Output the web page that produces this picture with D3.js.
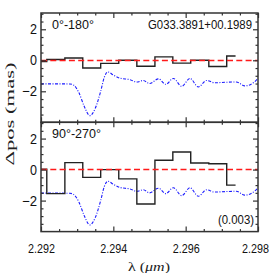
<!DOCTYPE html>
<html>
<head>
<meta charset="utf-8">
<script src="https://cdn.jsdelivr.net/npm/d3@7"></script>
<style>
  body { margin: 0; background: #fff; }
  svg { display: block; }
</style>
</head>
<body>
<script>
// binned centroid offsets (histogram style)
const stepLam = [2.29191, 2.29241, 2.29291, 2.29340, 2.29390, 2.29440,
                 2.29490, 2.29540, 2.29589, 2.29639, 2.29689, 2.29738];
const stepTop = [-0.08, 0.05, 0.15, -0.5, -0.2, 0.0, -0.38, 0.22, -0.18, 0.0, -0.4, 0.28];
const stepBot = [0.02, -1.55, 0.45, -0.5, 0.0, -0.6, -2.22, 0.6, 1.13, 0.42, 0.38, -1.0];

// line profile (blue dash-dot)
const profLam = [2.2920, 2.2925, 2.2928, 2.2929, 2.29305, 2.2932, 2.29335, 2.2935,
                 2.29365, 2.29375, 2.29385, 2.2940, 2.29418, 2.29446, 2.29465, 2.29483,
                 2.2950, 2.29525, 2.29545, 2.29566, 2.29589, 2.29612, 2.29635, 2.29658,
                 2.2968, 2.2971, 2.2974, 2.29764, 2.2979, 2.2980];
const profVal = [-1.52, -1.52, -1.53, -1.6, -2.1, -3.0, -3.57, -3.1,
                 -2.0, -1.1, -0.75, -0.95, -1.15, -1.25, -1.4, -1.3,
                 -1.5, -1.2, -1.55, -1.17, -1.68, -1.17, -1.72, -1.3,
                 -1.45, -1.42, -1.4, -1.65, -1.4, -1.17];

const xTicks = [2.292, 2.294, 2.296, 2.298];
const xMinor = [2.2925, 2.293, 2.2935, 2.2945, 2.295, 2.2955, 2.2965, 2.297, 2.2975];
const yTicks = [-2, 0, 2];
const yMinor = [-3.5, -3, -2.5, -1.5, -1, -0.5, 0.5, 1, 1.5, 2.5, 3];

const panelLabels = ["0°-180°", "90°-270°"];
const objName = "G033.3891+00.1989";
const noteText = "(0.003)";

const width = 273, height = 273;
const plotLeft = 41, plotRight = 258, plotTop = 13;
const panelH = 109.3;
const sans = "'Liberation Sans', Arial, sans-serif";
const serif = "'Liberation Serif', 'DejaVu Serif', serif";

const svg = d3.select("body").append("svg")
      .attr("width", width)
      .attr("height", height)
      .style("font-family", sans);

const x = d3.scaleLinear().domain([2.292, 2.298]).range([plotLeft, plotRight]);

function drawPanel(i, stepVals, label) {
      const y0 = plotTop + i * panelH;
      const y = d3.scaleLinear().domain([-4, 3.05]).range([y0 + panelH, y0]);

      svg.append("clipPath").attr("id", "clip" + i)
            .append("rect")
            .attr("x", plotLeft).attr("y", y0)
            .attr("width", plotRight - plotLeft).attr("height", panelH);

      const plot = svg.append("g").attr("clip-path", `url(#clip${i})`);

      plot.append("path")
            .datum(d3.zip(profLam, profVal))
            .attr("fill", "none")
            .attr("stroke", "#1a1aff")
            .attr("stroke-width", 1.1)
            .attr("stroke-dasharray", "3,1.5,1,1.5")
            .attr("d", d3.line()
                  .x(d => x(d[0]))
                  .y(d => y(d[1]))
                  .curve(d3.curveMonotoneX));

      plot.append("path")
            .datum(d3.zip(stepLam, stepVals))
            .attr("fill", "none")
            .attr("stroke", "#222")
            .attr("stroke-width", 1.4)
            .attr("d", d3.line()
                  .x(d => x(d[0]))
                  .y(d => y(d[1]))
                  .curve(d3.curveStep));

      const y0px = Math.round(y(0) - 0.5) + 0.5;
      plot.append("line")
            .attr("x1", plotLeft).attr("x2", plotRight)
            .attr("y1", y0px).attr("y2", y0px)
            .attr("stroke", "#ff1a1a")
            .attr("stroke-width", 1.5)
            .attr("stroke-dasharray", "6,3.3");

      // axes, ticks inward on all four sides
      const axes = [
            [d3.axisLeft(y).tickValues(yTicks).tickSize(-5).tickPadding(4).tickFormat(d3.format("d")), `translate(${plotLeft},0)`],
            [d3.axisLeft(y).tickValues(yMinor).tickSize(-2.5).tickFormat(""), `translate(${plotLeft},0)`],
            [d3.axisRight(y).tickValues(yTicks).tickSize(-5).tickFormat(""), `translate(${plotRight},0)`],
            [d3.axisRight(y).tickValues(yMinor).tickSize(-2.5).tickFormat(""), `translate(${plotRight},0)`],
            [d3.axisTop(x).tickValues(xTicks).tickSize(-5).tickFormat(""), `translate(0,${y0})`],
            [d3.axisTop(x).tickValues(xMinor).tickSize(-2.5).tickFormat(""), `translate(0,${y0})`],
            [d3.axisBottom(x).tickValues(xTicks).tickSize(-5).tickPadding(12).tickFormat(i === 1 ? d3.format(".3f") : ""), `translate(0,${y0 + panelH})`],
            [d3.axisBottom(x).tickValues(xMinor).tickSize(-2.5).tickFormat(""), `translate(0,${y0 + panelH})`]
      ];
      axes.forEach(([ax, tr], k) => {
            const g = svg.append("g").attr("transform", tr).call(ax);
            g.select(".domain").remove();
            g.selectAll(".tick line").attr("stroke", "#333").attr("stroke-width", 1.2);
            g.selectAll("text")
                  .attr("fill", "#111")
                  .style("font-size", "14px")
                  .style("font-family", sans)
                  .attr("lengthAdjust", "spacingAndGlyphs");
            if (k === 0) g.selectAll("text").attr("textLength", d => d < 0 ? 15 : 7);
            if (k === 6) g.selectAll("text")
                  .style("font-size", "13px")
                  .attr("textLength", 27)
                  .attr("dx", d => d === 2.298 ? -3 : 0);
      });

      svg.append("rect")
            .attr("x", plotLeft).attr("y", y0)
            .attr("width", plotRight - plotLeft).attr("height", panelH)
            .attr("fill", "none")
            .attr("stroke", "#333")
            .attr("stroke-width", 1.5);

      svg.append("text")
            .attr("x", 52).attr("y", y0 + 16)
            .style("font-size", "12.5px")
            .attr("fill", "#111")
            .text(label);
}

drawPanel(0, stepTop, panelLabels[0]);
drawPanel(1, stepBot, panelLabels[1]);

svg.append("text")
      .attr("x", 148).attr("y", 29)
      .attr("textLength", 104)
      .attr("lengthAdjust", "spacingAndGlyphs")
      .style("font-size", "12px")
      .attr("fill", "#111")
      .text(objName);

svg.append("text")
      .attr("x", 218).attr("y", 224)
      .attr("textLength", 36)
      .attr("lengthAdjust", "spacingAndGlyphs")
      .style("font-size", "12px")
      .attr("fill", "#111")
      .text(noteText);

svg.append("text")
      .attr("transform", "translate(14,114) rotate(-90)")
      .attr("text-anchor", "middle")
      .attr("textLength", 103)
      .attr("lengthAdjust", "spacingAndGlyphs")
      .style("font-family", serif)
      .style("font-size", "12px")
      .attr("fill", "#222")
      .text("Δpos (mas)");

const xl = svg.append("text")
      .attr("x", 128).attr("y", 270.5)
      .attr("textLength", 42)
      .attr("lengthAdjust", "spacingAndGlyphs")
      .style("font-family", serif)
      .style("font-size", "13px")
      .attr("fill", "#222");
xl.append("tspan").text("λ (");
xl.append("tspan").style("font-style", "italic").text("μm");
xl.append("tspan").text(")");
</script>
</body>
</html>
